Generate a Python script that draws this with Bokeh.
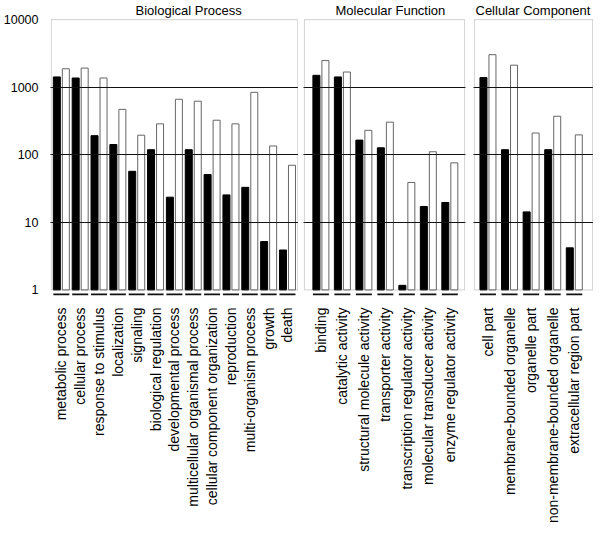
import numpy as np
from math import pi
from bokeh.plotting import figure
from bokeh.layouts import row
from bokeh.models import Range1d, FixedTicker, BoxAnnotation, ColumnDataSource, Title
from bokeh.embed import file_html
from bokeh.resources import INLINE

# ---------------- data ----------------
bp_labels = ["metabolic process", "cellular process", "response to stimulus", "localization",
             "signaling", "biological regulation", "developmental process",
             "multicellular organismal process", "cellular component organization",
             "reproduction", "multi-organism process", "growth", "death"]
bp_black = [1420, 1370, 192, 142, 57, 119, 23.6, 119, 51, 25.5, 33, 5.2, 3.9]
bp_white = [1875, 1920, 1370, 470, 195, 287, 663, 621, 325, 287, 840, 135, 70]

mf_labels = ["binding", "catalytic activity", "structural molecule activity",
             "transporter activity", "transcription regulator activity",
             "molecular transducer activity", "enzyme regulator activity"]
mf_black = [1500, 1420, 165, 127, 1.17, 17.2, 19.7]
mf_white = [2480, 1680, 230, 304, 39, 111, 76]

cc_labels = ["cell part", "membrane-bounded organelle", "organelle part",
             "non-membrane-bounded organelle", "extracellular region part"]
cc_black = [1390, 119, 14.3, 119, 4.2]
cc_white = [3030, 2120, 210, 372, 197]

titles = ["Biological Process", "Molecular Function", "Cellular Component"]
y_ticks = [1, 10, 100, 1000, 10000]
grid_ticks = [10, 100, 1000]

# ---------------- style ----------------
FONT = "Liberation Sans"
FRAME_H = 278
BAR_PX = 7.0
OFF_PX = 4.5
panels = [
    dict(labels=bp_labels, black=bp_black, white=bp_white, title=titles[0],
         fw=248, padl=0.035, padr=0.045, bl=41, br=0, toff=85, yaxis=True),
    dict(labels=mf_labels, black=mf_black, white=mf_white, title=titles[1],
         fw=162, padl=0.27, padr=0.19, bl=0, br=3, toff=32, yaxis=False),
    dict(labels=cc_labels, black=cc_black, white=cc_white, title=titles[2],
         fw=120, padl=0.13, padr=0.35, bl=0, br=0, toff=2, yaxis=False),
]

figs = []
for P in panels:
    n = len(P["labels"])
    box_l = -0.5 - P["padl"]
    box_r = n - 0.5 + P["padr"]
    s = P["fw"] / (box_r - box_l + 0.08)  # px per category unit
    eps = 0.04
    w = BAR_PX / s
    off = OFF_PX / s
    x = np.arange(n)

    p = figure(frame_width=P["fw"], frame_height=FRAME_H, y_axis_type="log",
               x_range=Range1d(box_l - eps, box_r + eps), y_range=Range1d(0.8, 10400),
               output_backend="svg", toolbar_location=None,
               min_border_left=P["bl"], min_border_right=P["br"],
               min_border_top=16, min_border_bottom=221)
    p.outline_line_color = None
    p.background_fill_color = "white"
    p.border_fill_color = "white"

    t = Title(text=P["title"], align="left", offset=P["toff"], standoff=1,
              text_font=FONT, text_font_size="13px", text_font_style="normal",
              text_color="black")
    p.add_layout(t, "above")

    src = ColumnDataSource(dict(
        xb=x - off, xw=x + off, black=P["black"], white=P["white"],
        x0=x - off - w / 2, x1=x + off + w / 2, yd=[0.86] * n))

    p.vbar(x="xb", top="black", bottom=1, width=w, source=src,
           fill_color="black", line_color="black", line_width=1)
    p.vbar(x="xw", top="white", bottom=1, width=w, source=src,
           fill_color="white", line_color="#666666", line_width=1)
    p.segment(x0="x0", x1="x1", y0="yd", y1="yd", source=src,
              line_color="#111111", line_width=1.6)

    p.add_layout(BoxAnnotation(bottom=1, top=10000, left=box_l, right=box_r,
                               fill_alpha=0, line_color="#666666", line_width=1))

    p.xgrid.visible = False
    p.ygrid.ticker = FixedTicker(ticks=grid_ticks)
    p.ygrid.grid_line_color = "#111111"
    p.ygrid.grid_line_width = 1
    p.ygrid.level = "annotation"

    xa = p.xaxis[0]
    xa.ticker = FixedTicker(ticks=list(range(n)))
    xa.major_label_overrides = {i: lab for i, lab in enumerate(P["labels"])}
    xa.major_label_orientation = pi / 2
    xa.major_label_text_font = FONT
    xa.major_label_text_font_size = "14px"
    xa.major_label_text_color = "black"
    xa.major_label_standoff = 5
    xa.axis_line_color = None
    xa.major_tick_line_color = None
    xa.minor_tick_line_color = None

    ya = p.yaxis[0]
    ya.ticker = FixedTicker(ticks=y_ticks)
    ya.major_label_overrides = {float(v): str(v) for v in y_ticks}
    ya.major_label_text_font = FONT
    ya.major_label_text_font_size = "12.5px"
    ya.major_label_text_color = "black"
    ya.major_label_standoff = 6
    ya.axis_line_color = None
    ya.major_tick_line_color = None
    ya.minor_tick_line_color = None
    if not P["yaxis"]:
        ya.visible = False
    figs.append(p)

layout = row(*figs, spacing=5)
open("out.html", "w").write(file_html(layout, INLINE))
